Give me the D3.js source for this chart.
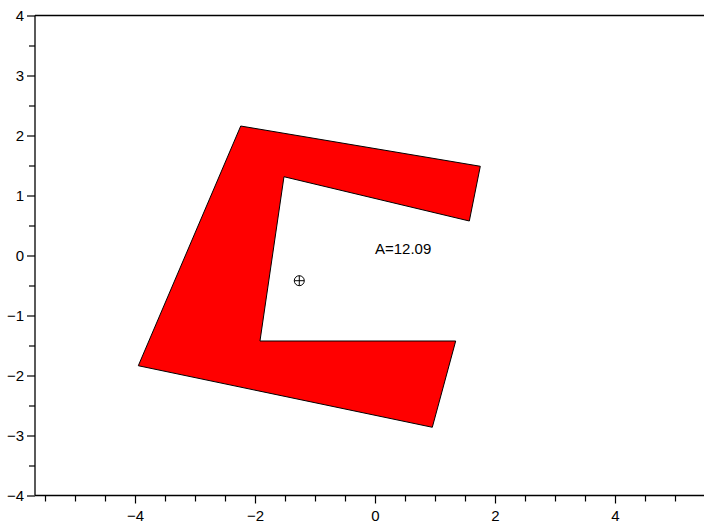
<!DOCTYPE html>
<html>
<head>
<meta charset="utf-8">
<script src="https://cdn.jsdelivr.net/npm/d3@7/dist/d3.min.js"></script>
<style>
  html, body { margin: 0; padding: 0; background: #fff; }
  svg { display: block; }
  text { font-family: "Liberation Sans", Arial, Helvetica, sans-serif; }
</style>
</head>
<body>
<svg id="chart" width="704" height="525"></svg>
<script>
// ---- data ----
const polyX = [-2.238, 1.755, 1.572, -1.517, -1.917, 1.345, 0.955, -3.945];
const polyY = [2.158, 1.487, 0.575, 1.313, -1.425, -1.425, -2.863, -1.837];
const centroid = [-1.262, -0.42];
const areaLabel = "A=12.09";
const areaLabelPos = [0, 0.02];
const xTicks = [-4, -2, 0, 2, 4];
const xTickLabels = ["\u22124", "\u22122", "0", "2", "4"];
const xMinor = [-5.5, -5, -4.5, -3.5, -3, -2.5, -1.5, -1, -0.5, 0.5, 1, 1.5, 2.5, 3, 3.5, 4.5, 5];
const yTicks = [-4, -3, -2, -1, 0, 1, 2, 3, 4];
const yTickLabels = ["\u22124", "\u22123", "\u22122", "\u22121", "0", "1", "2", "3", "4"];
const yMinor = [-3.5, -2.5, -1.5, -0.5, 0.5, 1.5, 2.5, 3.5];

// ---- layout ----
const svg = d3.select("#chart");
const x = d3.scaleLinear().domain([-5.6667, 5.4833]).range([35, 704]);
const y = d3.scaleLinear().domain([-4, 4]).range([495.5, 15.5]);
const fs = 15;

// polygon
const pts = polyX.map((v, i) => [x(v), y(polyY[i])]);
svg.append("path")
  .attr("d", d3.line()(pts) + "Z")
  .attr("fill", "#ff0000")
  .attr("stroke", "#000")
  .attr("stroke-width", 1)
  .attr("stroke-linejoin", "miter");

// centroid marker (circle plus)
const cx = x(centroid[0]), cy = y(centroid[1]), r = 5;
const mk = svg.append("g").attr("fill", "none").attr("stroke", "#000").attr("stroke-width", 1);
mk.append("circle").attr("cx", cx).attr("cy", cy).attr("r", r);
mk.append("line").attr("x1", cx - r).attr("x2", cx + r).attr("y1", cy).attr("y2", cy);
mk.append("line").attr("x1", cx).attr("x2", cx).attr("y1", cy - r).attr("y2", cy + r);

// area label
svg.append("text")
  .attr("x", x(areaLabelPos[0]))
  .attr("y", y(areaLabelPos[1]))
  .attr("font-size", fs)
  .attr("fill", "#000")
  .text(areaLabel);

// axes
const axW = 1.3;
// top frame line
svg.append("line").attr("x1", 35).attr("x2", 704).attr("y1", y(4)).attr("y2", y(4))
  .attr("stroke", "#000").attr("stroke-width", axW);

// bottom axis
const gx = svg.append("g").attr("transform", `translate(0,${y(-4)})`);
gx.call(d3.axisBottom(x).tickValues(xTicks).tickSize(8).tickPadding(7)
  .tickFormat((d, i) => xTickLabels[i]));
const gxm = svg.append("g").attr("transform", `translate(0,${y(-4)})`);
gxm.call(d3.axisBottom(x).tickValues(xMinor).tickSize(6).tickFormat(""));

// left axis
const gy = svg.append("g").attr("transform", `translate(${x(-5.6667)},0)`);
gy.call(d3.axisLeft(y).tickValues(yTicks).tickSize(8).tickPadding(3)
  .tickFormat((d, i) => yTickLabels[i]));
const gym = svg.append("g").attr("transform", `translate(${x(-5.6667)},0)`);
gym.call(d3.axisLeft(y).tickValues(yMinor).tickSize(6).tickFormat(""));

svg.selectAll(".domain").remove();
svg.selectAll(".tick line").attr("stroke", "#000").attr("stroke-width", 1.2);
svg.selectAll(".tick text").attr("font-size", fs).attr("fill", "#000")
  .attr("font-family", "'Liberation Sans', Arial, sans-serif");

svg.append("line").attr("x1", 35).attr("x2", 704).attr("y1", y(-4)).attr("y2", y(-4))
  .attr("stroke", "#000").attr("stroke-width", axW);
svg.append("line").attr("x1", 35).attr("x2", 35).attr("y1", y(4)).attr("y2", y(-4))
  .attr("stroke", "#000").attr("stroke-width", axW);
</script>
</body>
</html>
